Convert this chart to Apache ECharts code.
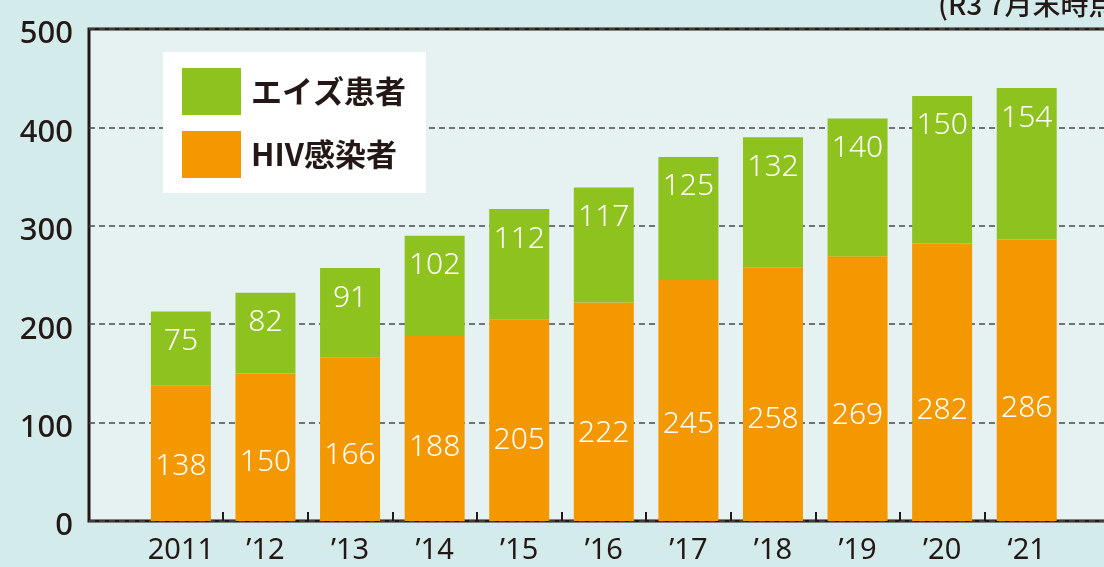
<!DOCTYPE html>
<html>
<head>
<meta charset="utf-8">
<script src="https://cdn.jsdelivr.net/npm/echarts@6/dist/echarts.min.js"></script>
<style>
  html, body { margin: 0; padding: 0; }
  #main { width: 1104px; height: 567px; }
</style>
</head>
<body>
<div id="main"></div>
<script>
// 年次（最後の空欄は目盛り位置合わせ用）
var years = ['2011', '’12', '’13', '’14', '’15', '’16', '’17', '’18', '’19', '’20', '‘21', ''];
var hivData = [138, 150, 166, 188, 205, 222, 245, 258, 269, 282, 286, '-'];
var aidsData = [75, 82, 91, 102, 112, 117, 125, 132, 140, 150, 154, '-'];
var yTicks = [0, 100, 200, 300, 400, 500];

var dark = '#231815';
var numFont = '"Noto Sans", "Open Sans", sans-serif';
var jpFont = '"Noto Sans CJK JP", sans-serif';

var chart = echarts.init(document.getElementById('main'));

var option = {
    backgroundColor: '#d3ebea',
    animation: false,
    title: {
        text: '(R3 7月末時点)',
        left: 933,
        top: -15,
        textStyle: { color: dark, fontSize: 28, fontWeight: 500, fontFamily: jpFont }
    },
    legend: {
        orient: 'vertical',
        left: 163,
        top: 52,
        padding: [16, 20, 15, 19],
        backgroundColor: '#ffffff',
        itemWidth: 59,
        itemHeight: 47,
        itemGap: 16,
        icon: 'rect',
        data: ['エイズ患者', 'HIV感染者'],
        textStyle: { color: dark, fontSize: 31, fontWeight: 'bold', fontFamily: jpFont, padding: [0, 0, 0, 5] }
    },
    grid: [
        {   // 枠・目盛線用
            left: 89, top: 29, right: -6, bottom: 46,
            outerBoundsMode: 'none',
            show: true,
            backgroundColor: '#e6f2f1',
            borderColor: dark,
            borderWidth: 3
        },
        {   // 棒グラフ用
            left: 138.6, top: 29, width: 1015, height: 492,
            outerBoundsMode: 'none'
        }
    ],
    xAxis: [
        { gridIndex: 0, type: 'value', min: 0, max: 1, show: false },
        {
            gridIndex: 1,
            type: 'category',
            data: years,
            axisLine: { show: false },
            axisTick: {
                show: true,
                inside: true,
                length: 9,
                lineStyle: { color: dark, width: 2 },
                interval: function (index) { return index !== 0 && index !== years.length - 1; }
            },
            axisLabel: {
                color: dark, fontSize: 29, fontFamily: numFont, margin: 15,
                interval: 0
            }
        }
    ],
    yAxis: [
        {
            gridIndex: 0,
            type: 'value',
            min: yTicks[0],
            max: yTicks[yTicks.length - 1],
            interval: 100,
            axisLine: { show: false },
            axisTick: { show: false },
            axisLabel: {
                color: dark, fontSize: 31, fontFamily: numFont, fontWeight: 500, margin: 16,
                verticalAlign: 'top',
                lineHeight: 11
            },
            splitLine: {
                show: true,
                lineStyle: { color: '#4a4a4a', width: 1.5, type: [6, 4] }
            }
        },
        { gridIndex: 1, type: 'value', min: 0, max: 500, show: false }
    ],
    series: [
        {
            name: 'HIV感染者',
            type: 'bar',
            stack: 'total',
            xAxisIndex: 1,
            yAxisIndex: 1,
            barWidth: 60,
            data: hivData,
            itemStyle: { color: '#f39800' },
            label: {
                show: true,
                position: ['50%', '60%'],
                align: 'center',
                verticalAlign: 'middle',
                color: '#ffffff',
                fontSize: 30,
                fontWeight: 300,
                fontFamily: numFont
            }
        },
        {
            name: 'エイズ患者',
            type: 'bar',
            stack: 'total',
            xAxisIndex: 1,
            yAxisIndex: 1,
            barWidth: 60,
            data: aidsData,
            itemStyle: { color: '#8dc21f' },
            label: {
                show: true,
                position: ['50%', 30],
                align: 'center',
                verticalAlign: 'middle',
                color: '#ffffff',
                fontSize: 30,
                fontWeight: 300,
                fontFamily: numFont
            }
        }
    ]
};
chart.setOption(option);
</script>
</body>
</html>
